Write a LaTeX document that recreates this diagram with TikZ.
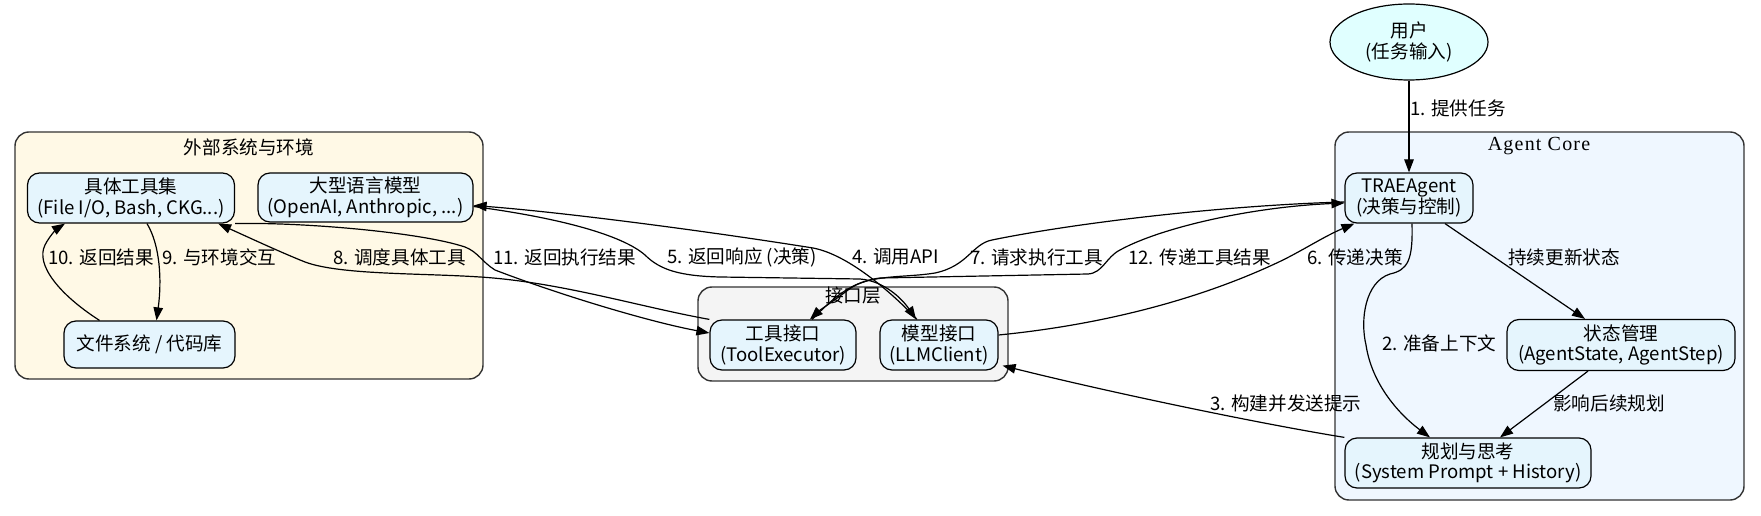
\documentclass[tikz,border=0pt]{standalone}
\usepackage{fontspec}
\setmainfont{Noto Sans CJK SC}
\newfontfamily\serifx[LetterSpace=6]{Liberation Serif}
\usetikzlibrary{arrows.meta,shapes.geometric}
\definecolor{nodefill}{HTML}{E5F5FD}
\definecolor{userfill}{HTML}{E0FFFF}
\definecolor{extfill}{HTML}{FFF9E6}
\definecolor{corefill}{HTML}{EFF7FF}
\definecolor{ifacefill}{HTML}{F4F4F4}
\definecolor{clusterline}{HTML}{333333}
\begin{document}
\begin{tikzpicture}[x=1bp,y=-1bp,
  font=\fontsize{18.6bp}{20.5bp}\selectfont,
  box/.style={draw=black, line width=1.2bp, rounded corners=12bp, fill=nodefill, align=center, inner sep=0pt},
  cluster/.style={draw=clusterline, line width=1.4bp, rounded corners=14bp, inner sep=0pt},
  elabel/.style={anchor=west, inner sep=0pt},
  arr/.style={-{Triangle[length=13bp,width=9.5bp]}, line width=1.2bp},
]
\fill[white] (0,0) rectangle (1761,516);
\useasboundingbox (0,0) rectangle (1761,516);

% clusters
\node[cluster, fill=extfill, minimum width=468bp, minimum height=247bp] (ext) at (249,255.5) {};
\node[cluster, fill=corefill, minimum width=409bp, minimum height=368bp] (core) at (1539.5,316) {};
\node[cluster, fill=ifacefill, minimum width=310bp, minimum height=94bp] (iface) at (853,334) {};
\node[inner sep=0pt] (extlbl) at (249,147) {外部系统与环境};
\node[inner sep=0pt, font=\serifx\fontsize{20bp}{22bp}\selectfont] (corelbl) at (1539,146) {Agent Core};
\node[inner sep=0pt] (ifacelbl) at (853,296) {接口层};

% nodes
\node[ellipse, draw=black, line width=1.2bp, fill=userfill, minimum width=158bp, minimum height=76bp, align=center, inner sep=0pt] (user) at (1409,42) {用户\\(任务输入)};
\node[box, minimum width=128bp, minimum height=50bp] (trae) at (1409,198) {TRAEAgent\\(决策与控制)};
\node[box, minimum width=228bp, minimum height=51bp] (state) at (1621,345) {状态管理\\(AgentState, AgentStep)};
\node[box, minimum width=246bp, minimum height=50bp] (plan) at (1468,463) {规划与思考\\(System Prompt + History)};
\node[box, minimum width=207bp, minimum height=50bp] (tools) at (131,198) {具体工具集\\(File I/O, Bash, CKG...)};
\node[box, minimum width=215bp, minimum height=49bp] (llm) at (365.5,197.5) {大型语言模型\\(OpenAI, Anthropic, ...)};
\node[box, minimum width=171bp, minimum height=47bp] (fs) at (149.5,344.5) {文件系统 / 代码库};
\node[box, minimum width=146bp, minimum height=50bp] (toolif) at (783,345) {工具接口\\(ToolExecutor)};
\node[box, minimum width=118bp, minimum height=50bp] (modelif) at (939,345) {模型接口\\(LLMClient)};

% edges
\draw[arr] (user) -- (trae);
\draw[arr] ([xshift=3bp]trae.south) .. controls (1413,260) and (1408,270) .. (1390,274) .. controls (1365,282) and (1360,320) .. (1366,345) .. controls (1372,385) and (1400,415) .. ([xshift=-38bp]plan.north);
\draw[arr] ([xshift=36bp]trae.south) -- ([xshift=-36bp]state.north);
\draw[arr] ([xshift=-33bp]state.south) -- ([xshift=32bp]plan.north);
\draw[arr] (plan.north west) .. controls (1250,422) and (1100,390) .. ([xshift=4bp,yshift=5bp]modelif.south east);
\draw[arr] ([xshift=-22bp]modelif.north) .. controls (895,296) and (850,255) .. (813,248) .. controls (700,230) and (560,212) .. ([yshift=-8bp]llm.east);
\draw[arr] ([yshift=-9bp]llm.east) .. controls (560,218) and (622,235) .. (645,255) .. controls (660,270) and (680,276) .. (720,277) -- (860,279) .. controls (885,281) and (903,300) .. ([xshift=-23bp]modelif.north);
\draw[arr] ([yshift=10bp]modelif.east) .. controls (1100,325) and (1200,300) .. (1283,260) .. controls (1305,249) and (1325,236) .. ([xshift=10bp]trae.south west);
\draw[arr] ([yshift=-4bp]trae.west) .. controls (1230,205) and (1080,222) .. (992,240) .. controls (972,244) and (968,266) .. (935,273) .. controls (905,278) and (868,274) .. (848,290) .. controls (835,300) and (820,310) .. ([xshift=27bp]toolif.north);
\draw[arr] ([xshift=29bp]toolif.north) .. controls (830,302) and (848,282) .. (880,278) -- (1088,274) .. controls (1103,273) and (1106,257) .. (1120,250) .. controls (1160,228) and (1250,207) .. ([yshift=-5bp]trae.west);
\draw[arr] (toolif.north west) .. controls (640,307) and (560,282) .. (480,277) .. controls (420,273) and (340,275) .. (305,262) .. controls (280,252) and (250,238) .. ([xshift=-17bp]tools.south east);
\draw[arr] (tools.south east) .. controls (300,222) and (420,232) .. (465,247) .. controls (478,252) and (482,262) .. (495,270) .. controls (560,295) and (650,322) .. ([yshift=12bp]toolif.west);
\draw[arr] ([xshift=16bp]tools.south) .. controls (160,245) and (162,280) .. ([xshift=7bp]fs.north);
\draw[arr] ([xshift=-50bp]fs.north) .. controls (60,295) and (35,265) .. (45,245) .. controls (50,235) and (58,228) .. ([xshift=-66bp]tools.south);

% edge labels
\node[elabel] (lbl1) at (1410,108) {1. 提供任务};
\node[elabel] (lbl2) at (1382,343) {2. 准备上下文};
\node[elabel] (lblupd) at (1508,257) {持续更新状态};
\node[elabel] (lblinf) at (1553,403) {影响后续规划};
\node[elabel] (lbl3) at (1210,403) {3. 构建并发送提示};
\node[elabel] (lbl4) at (852,257) {4. 调用API};
\node[elabel] (lbl5) at (667,257) {5. 返回响应 (决策)};
\node[elabel] (lbl6) at (1307,257) {6. 传递决策};
\node[elabel] (lbl7) at (970,257) {7. 请求执行工具};
\node[elabel] (lbl8) at (333,257) {8. 调度具体工具};
\node[elabel] (lbl9) at (162,257) {9. 与环境交互};
\node[elabel] (lbl10) at (48,257) {10. 返回结果};
\node[elabel] (lbl11) at (493,257) {11. 返回执行结果};
\node[elabel] (lbl12) at (1128,257) {12. 传递工具结果};
\end{tikzpicture}
\end{document}
